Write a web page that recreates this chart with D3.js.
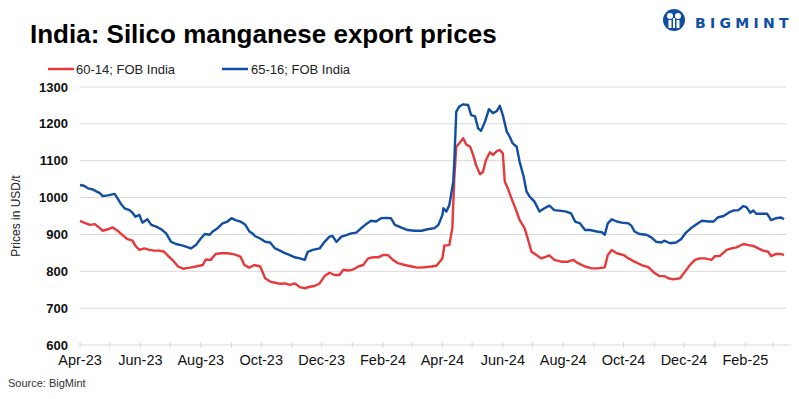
<!DOCTYPE html>
<html lang="en">
<head>
<meta charset="UTF-8">
<title>India: Silico manganese export prices</title>
<script src="https://d3js.org/d3.v7.min.js"></script>
<style>
    html, body {margin: 0; padding: 0; background: #fff; overflow: hidden}
    svg {display: block}
    .tick-y {font-family: "Liberation Sans", Arial, sans-serif; font-size: 13px; font-weight: bold; fill: #111}
    .tick-x {font-family: "Liberation Sans Narrow", "Liberation Sans", sans-serif; font-size: 14.5px; fill: #111}
</style>
</head>
<body>
<svg id="chart" width="799" height="399"></svg>
<script>

// series names + colours
const seriesNames = ["60-14; FOB India", "65-16; FOB India"];
const seriesColors = ["#e8393a", "#0f4ea3"];

// y axis ticks (USD/t)
const yTicks = [600, 700, 800, 900, 1000, 1100, 1200, 1300];

// 60-14; FOB India  [date, USD/t]
const price6014 = [
  ["2023-04-01", 937], ["2023-04-05", 932], ["2023-04-11", 926], ["2023-04-16", 928], ["2023-04-21", 917],
  ["2023-04-24", 910], ["2023-04-29", 914], ["2023-05-04", 919], ["2023-05-09", 910], ["2023-05-14", 898],
  ["2023-05-19", 887], ["2023-05-24", 883], ["2023-05-27", 869], ["2023-05-31", 858], ["2023-06-05", 862],
  ["2023-06-10", 858], ["2023-06-15", 856], ["2023-06-20", 856], ["2023-06-25", 853], ["2023-06-29", 842],
  ["2023-07-04", 829], ["2023-07-09", 813], ["2023-07-14", 807], ["2023-07-21", 810], ["2023-07-27", 813],
  ["2023-08-03", 817], ["2023-08-06", 832], ["2023-08-11", 831], ["2023-08-16", 847], ["2023-08-21", 849],
  ["2023-08-28", 849], ["2023-09-04", 846], ["2023-09-10", 840], ["2023-09-14", 817], ["2023-09-19", 810],
  ["2023-09-24", 817], ["2023-09-30", 813], ["2023-10-05", 781], ["2023-10-10", 772], ["2023-10-15", 769],
  ["2023-10-20", 766], ["2023-10-25", 767], ["2023-10-30", 763], ["2023-11-04", 767], ["2023-11-09", 757],
  ["2023-11-14", 754], ["2023-11-19", 758], ["2023-11-24", 760], ["2023-11-29", 767], ["2023-12-04", 787],
  ["2023-12-09", 796], ["2023-12-14", 790], ["2023-12-19", 790], ["2023-12-23", 804], ["2023-12-28", 802],
  ["2024-01-02", 805], ["2024-01-07", 813], ["2024-01-12", 817], ["2024-01-17", 835], ["2024-01-22", 838],
  ["2024-01-27", 838], ["2024-02-01", 844], ["2024-02-06", 844], ["2024-02-11", 831], ["2024-02-16", 822],
  ["2024-02-23", 817], ["2024-03-01", 813], ["2024-03-07", 810], ["2024-03-14", 811], ["2024-03-21", 813],
  ["2024-03-26", 815], ["2024-04-01", 835], ["2024-04-03", 870], ["2024-04-08", 871], ["2024-04-11", 917],
  ["2024-04-13", 1052], ["2024-04-15", 1138], ["2024-04-18", 1147], ["2024-04-22", 1161], ["2024-04-25", 1144],
  ["2024-04-29", 1138], ["2024-05-02", 1116], ["2024-05-05", 1088], ["2024-05-09", 1063], ["2024-05-12", 1070],
  ["2024-05-15", 1102], ["2024-05-19", 1123], ["2024-05-22", 1116], ["2024-05-26", 1126], ["2024-05-29", 1129],
  ["2024-06-01", 1120], ["2024-06-03", 1043], ["2024-06-06", 1025], ["2024-06-11", 989], ["2024-06-15", 962],
  ["2024-06-18", 939], ["2024-06-23", 917], ["2024-06-27", 881], ["2024-06-30", 853], ["2024-07-05", 844],
  ["2024-07-10", 835], ["2024-07-15", 840], ["2024-07-18", 843], ["2024-07-23", 831], ["2024-07-30", 826],
  ["2024-08-06", 826], ["2024-08-11", 831], ["2024-08-16", 822], ["2024-08-23", 813], ["2024-08-30", 808],
  ["2024-09-05", 808], ["2024-09-10", 810], ["2024-09-12", 811], ["2024-09-15", 844], ["2024-09-19", 858],
  ["2024-09-24", 849], ["2024-10-01", 844], ["2024-10-06", 835], ["2024-10-12", 826], ["2024-10-19", 817],
  ["2024-10-26", 811], ["2024-11-01", 796], ["2024-11-06", 787], ["2024-11-11", 787], ["2024-11-15", 781],
  ["2024-11-20", 778], ["2024-11-27", 781], ["2024-12-02", 799], ["2024-12-07", 817], ["2024-12-12", 831],
  ["2024-12-17", 835], ["2024-12-22", 835], ["2024-12-29", 831], ["2025-01-01", 841], ["2025-01-06", 841],
  ["2025-01-13", 858], ["2025-01-18", 862], ["2025-01-23", 865], ["2025-01-30", 874], ["2025-02-04", 871],
  ["2025-02-09", 869], ["2025-02-14", 862], ["2025-02-19", 856], ["2025-02-24", 853], ["2025-02-27", 841],
  ["2025-03-04", 847], ["2025-03-09", 847], ["2025-03-12", 844]
];

// 65-16; FOB India
const price6516 = [
  ["2023-04-01", 1034], ["2023-04-05", 1032], ["2023-04-09", 1025], ["2023-04-14", 1022], ["2023-04-16", 1019],
  ["2023-04-21", 1012], ["2023-04-24", 1004], ["2023-04-29", 1006], ["2023-05-06", 1010], ["2023-05-09", 998],
  ["2023-05-12", 984], ["2023-05-16", 971], ["2023-05-21", 966], ["2023-05-24", 959], ["2023-05-27", 948],
  ["2023-05-31", 953], ["2023-06-03", 932], ["2023-06-08", 941], ["2023-06-12", 926], ["2023-06-17", 921],
  ["2023-06-22", 914], ["2023-06-27", 903], ["2023-07-02", 880], ["2023-07-07", 874], ["2023-07-12", 871],
  ["2023-07-17", 867], ["2023-07-22", 862], ["2023-07-27", 871], ["2023-08-01", 889], ["2023-08-05", 901],
  ["2023-08-10", 899], ["2023-08-13", 908], ["2023-08-18", 917], ["2023-08-23", 930], ["2023-08-28", 935],
  ["2023-09-01", 944], ["2023-09-05", 939], ["2023-09-10", 935], ["2023-09-15", 926], ["2023-09-19", 908],
  ["2023-09-22", 903], ["2023-09-25", 895], ["2023-09-30", 889], ["2023-10-05", 880], ["2023-10-10", 878],
  ["2023-10-15", 862], ["2023-10-20", 856], ["2023-10-25", 849], ["2023-10-30", 844], ["2023-11-04", 838],
  ["2023-11-09", 835], ["2023-11-14", 831], ["2023-11-17", 853], ["2023-11-22", 858], ["2023-11-29", 862],
  ["2023-12-04", 880], ["2023-12-09", 894], ["2023-12-12", 896], ["2023-12-16", 880], ["2023-12-21", 894],
  ["2023-12-26", 898], ["2023-12-31", 903], ["2024-01-05", 905], ["2024-01-10", 917], ["2024-01-15", 928],
  ["2024-01-20", 937], ["2024-01-25", 935], ["2024-01-30", 944], ["2024-02-04", 945], ["2024-02-09", 944],
  ["2024-02-13", 926], ["2024-02-19", 919], ["2024-02-26", 912], ["2024-03-04", 910], ["2024-03-11", 910],
  ["2024-03-17", 914], ["2024-03-24", 917], ["2024-03-28", 926], ["2024-04-01", 953], ["2024-04-02", 971],
  ["2024-04-05", 962], ["2024-04-08", 980], ["2024-04-12", 1043], ["2024-04-13", 1097], ["2024-04-15", 1233],
  ["2024-04-18", 1247], ["2024-04-22", 1253], ["2024-04-27", 1251], ["2024-04-30", 1224], ["2024-05-04", 1220],
  ["2024-05-07", 1188], ["2024-05-10", 1181], ["2024-05-14", 1206], ["2024-05-18", 1240], ["2024-05-22", 1229],
  ["2024-05-26", 1235], ["2024-05-29", 1249], ["2024-06-01", 1224], ["2024-06-05", 1179], ["2024-06-08", 1165],
  ["2024-06-11", 1147], ["2024-06-15", 1138], ["2024-06-18", 1097], ["2024-06-22", 1057], ["2024-06-25", 1016],
  ["2024-06-28", 1003], ["2024-07-03", 989], ["2024-07-08", 962], ["2024-07-13", 971], ["2024-07-18", 978],
  ["2024-07-23", 966], ["2024-07-30", 964], ["2024-08-04", 962], ["2024-08-09", 957], ["2024-08-13", 935],
  ["2024-08-18", 930], ["2024-08-23", 912], ["2024-08-28", 912], ["2024-09-04", 908], ["2024-09-09", 906],
  ["2024-09-12", 899], ["2024-09-15", 930], ["2024-09-19", 941], ["2024-09-24", 935], ["2024-09-29", 932],
  ["2024-10-06", 930], ["2024-10-09", 923], ["2024-10-12", 908], ["2024-10-17", 901], ["2024-10-24", 899],
  ["2024-10-29", 892], ["2024-11-03", 880], ["2024-11-08", 878], ["2024-11-11", 883], ["2024-11-17", 876],
  ["2024-11-23", 878], ["2024-11-28", 887], ["2024-12-03", 905], ["2024-12-09", 919], ["2024-12-14", 928],
  ["2024-12-19", 937], ["2024-12-26", 935], ["2024-12-31", 935], ["2025-01-04", 946], ["2025-01-10", 950],
  ["2025-01-15", 959], ["2025-01-20", 965], ["2025-01-25", 966], ["2025-01-30", 977], ["2025-02-02", 974],
  ["2025-02-06", 959], ["2025-02-09", 965], ["2025-02-12", 956], ["2025-02-17", 956], ["2025-02-23", 956],
  ["2025-02-27", 939], ["2025-03-04", 944], ["2025-03-09", 946], ["2025-03-12", 941]
];

const parse = d3.timeParse("%Y-%m-%d");
const series = [price6014, price6516].map(s => s.map(d => ({date: parse(d[0]), value: d[1]})));

const svg = d3.select("#chart");
const plotLeft = 80, plotRight = 786, plotTop = 87, plotBottom = 345;

const x = d3.scaleTime()
    .domain([parse("2023-04-01"), parse("2025-03-14")])
    .range([plotLeft, plotRight]);
const y = d3.scaleLinear().domain([600, 1300]).range([plotBottom, plotTop]);

// title
svg.append("text")
    .attr("x", 30).attr("y", 43)
    .style("font-family", "'Liberation Sans', Arial, sans-serif")
    .style("font-size", "26px").style("font-weight", "bold").style("fill", "#000")
    .text("India: Silico manganese export prices");

// logo (rough)
const logo = svg.append("g").attr("transform", "translate(674,20)");
logo.append("circle").attr("r", 11).attr("fill", seriesColors[1]);
logo.append("circle").attr("cx", -4).attr("cy", -4).attr("r", 3).attr("fill", "#fff");
logo.append("circle").attr("cx", 4).attr("cy", -4).attr("r", 3).attr("fill", "#fff");
logo.append("rect").attr("x", -5.5).attr("y", 0).attr("width", 3).attr("height", 8).attr("fill", "#fff");
logo.append("rect").attr("x", 2.5).attr("y", 0).attr("width", 3).attr("height", 8).attr("fill", "#fff");
logo.append("rect").attr("x", -1).attr("y", -2).attr("width", 2).attr("height", 10).attr("fill", "#fff");
svg.append("text")
    .attr("x", 695).attr("y", 28)
    .style("font-family", "'DejaVu Sans', sans-serif")
    .style("font-size", "14px").style("font-weight", "bold")
    .style("letter-spacing", "4.3px").style("fill", seriesColors[1])
    .text("BIGMINT");

// legend
const legend = svg.append("g");
[[48, 76], [222, 251]].forEach((p, i) => {
    legend.append("line")
        .attr("x1", p[0]).attr("x2", p[0] + 26).attr("y1", 69).attr("y2", 69)
        .attr("stroke", seriesColors[i]).attr("stroke-width", 2.5);
    legend.append("text")
        .attr("x", p[1]).attr("y", 74)
        .style("font-family", "'Liberation Sans', Arial, sans-serif")
        .style("font-size", "13px").style("fill", "#222")
        .text(seriesNames[i]);
});

// grid lines + y labels
svg.append("g").selectAll("line")
    .data(yTicks.filter(t => t > 600))
    .join("line")
    .attr("x1", plotLeft).attr("x2", plotRight)
    .attr("y1", d => y(d)).attr("y2", d => y(d))
    .attr("stroke", "#d9d9d9").attr("stroke-width", 1);

svg.append("g").selectAll("text")
    .data(yTicks)
    .join("text")
    .attr("class", "tick-y")
    .attr("x", 68).attr("y", d => y(d) + 4.5)
    .attr("text-anchor", "end")
    .text(d => d);

svg.append("text")
    .attr("transform", "translate(20,216) rotate(-90)")
    .attr("text-anchor", "middle")
    .style("font-family", "'Liberation Sans', Arial, sans-serif")
    .style("font-size", "12px").style("fill", "#222")
    .text("Prices in USD/t");

// x axis
const months = d3.timeMonth.range(parse("2023-04-01"), parse("2025-03-14"));
svg.append("line")
    .attr("x1", plotLeft).attr("x2", plotRight + 5)
    .attr("y1", plotBottom).attr("y2", plotBottom)
    .attr("stroke", "#d9d9d9");
svg.append("g").selectAll("line")
    .data(months)
    .join("line")
    .attr("x1", d => x(d)).attr("x2", d => x(d))
    .attr("y1", plotBottom - 3).attr("y2", plotBottom + 3)
    .attr("stroke", "#d9d9d9");
const fmt = d3.timeFormat("%b-%y");
svg.append("g").selectAll("text")
    .data(months.filter((d, i) => i % 2 === 0))
    .join("text")
    .attr("class", "tick-x")
    .attr("x", d => x(d)).attr("y", 365)
    .attr("text-anchor", "middle")
    .text(d => fmt(d));

// lines
const line = d3.line().x(d => x(d.date)).y(d => y(d.value));
svg.append("g").selectAll("path")
    .data(series)
    .join("path")
    .attr("d", line)
    .attr("fill", "none")
    .attr("stroke", (d, i) => seriesColors[i])
    .attr("stroke-width", 2.4)
    .attr("stroke-linejoin", "round");

// source
svg.append("text")
    .attr("x", 8).attr("y", 387)
    .style("font-family", "'Liberation Sans', Arial, sans-serif")
    .style("font-size", "11px").style("fill", "#333")
    .text("Source: BigMint");

</script>
</body>
</html>
